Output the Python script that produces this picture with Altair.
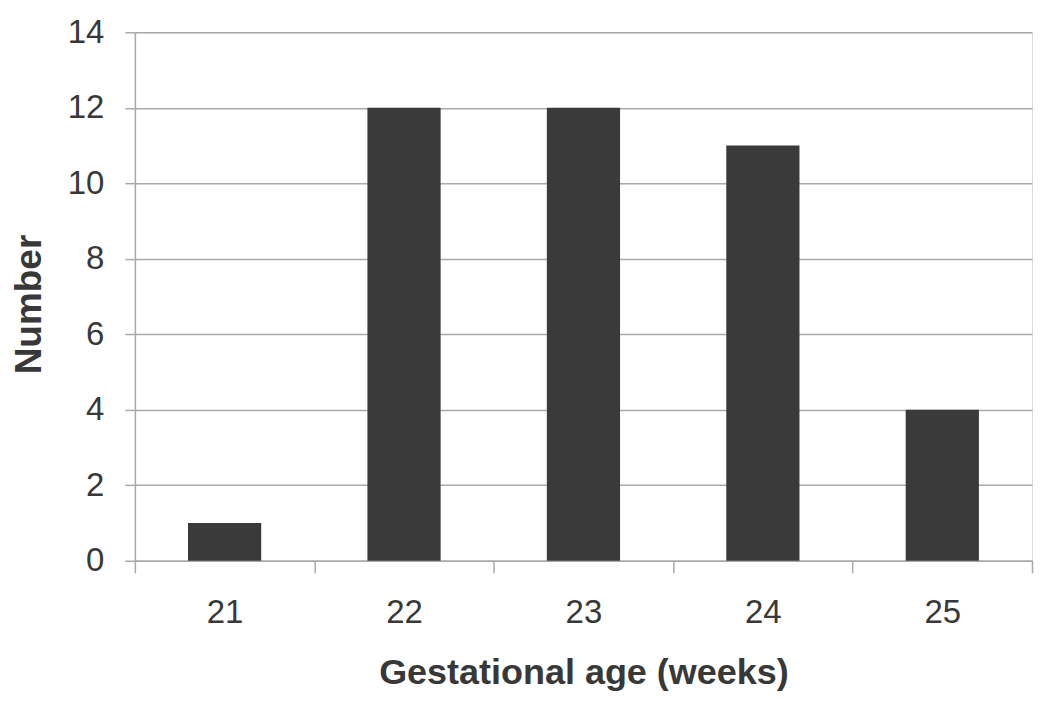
import altair as alt
import pandas as pd

weeks = ["21", "22", "23", "24", "25"]
counts = [1, 12, 12, 11, 4]

df = pd.DataFrame({"week": weeks, "count": counts})

GRID = "#a9a9a9"
TXT = "#383838"
FONT = "Liberation Sans"

chart = (
    alt.Chart(df)
    .mark_bar(color="#3a3a3a", width=alt.RelativeBandSize(0.408))
    .encode(
        x=alt.X(
            "week:N",
            sort=weeks,
            scale=alt.Scale(paddingInner=0, paddingOuter=0),
            axis=alt.Axis(
                title="Gestational age (weeks)",
                labelAngle=0,
                labelFontSize=33,
                labelFont=FONT,
                labelColor=TXT,
                labelPadding=24,
                tickBand="extent",
                tickSize=12,
                tickColor=GRID,
                tickWidth=1.5,
                domainColor=GRID,
                domainWidth=1.5,
                titleFont=FONT,
                titleFontSize=36,
                titleFontWeight="bold",
                titleColor=TXT,
                titleBaseline="alphabetic",
                titleY=123,
                grid=False,
            ),
        ),
        y=alt.Y(
            "count:Q",
            scale=alt.Scale(domain=[0, 14], nice=False),
            axis=alt.Axis(
                title="Number",
                values=[0, 2, 4, 6, 8, 10, 12, 14],
                labelFontSize=33,
                labelFont=FONT,
                labelColor=TXT,
                labelPadding=21,
                tickSize=10,
                tickColor=GRID,
                tickWidth=1.5,
                domainColor=GRID,
                domainWidth=1.5,
                gridColor=GRID,
                gridWidth=1.5,
                titleFont=FONT,
                titleFontSize=37,
                titleFontWeight="bold",
                titleColor=TXT,
                titleBaseline="alphabetic",
                titleAngle=270,
                titleX=-94,
                titleY=272,
            ),
        ),
    )
    .properties(
        width=898,
        height=529,
        autosize=alt.AutoSizeParams(type="none"),
        padding={"left": 127, "top": 24, "right": 10, "bottom": 140},
    )
    .configure_view(stroke=None)
    .configure(background="white")
)

chart.save("out.html", embed_options={"renderer": "svg", "actions": False})
